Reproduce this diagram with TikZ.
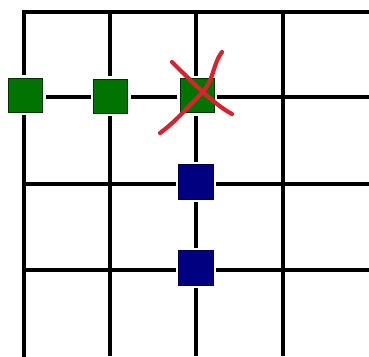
\documentclass[tikz,border=0pt]{standalone}
\begin{document}
\begin{tikzpicture}[x=1pt,y=-1pt,
  gridline/.style={line width=3.6pt,black},
  halo/.style={minimum size=40pt,inner sep=0pt,fill=white,draw=none},
  gsq/.style={minimum size=34pt,inner sep=0pt,fill=green!45!black,draw=green!20!black,line width=0.8pt},
  bsq/.style={minimum size=35pt,inner sep=0pt,fill=blue!50!black,draw=blue!30!black,line width=0.8pt},
  cross/.style={line width=4.2pt,color={rgb,255:red,215;green,35;blue,45},line cap=round}]
\useasboundingbox (0,0) rectangle (369,356);
% grid
\draw[gridline,line cap=rect] (369,12) -- (24,12) -- (24,356);
\foreach \x in {110,196,283} \draw[gridline] (\x,12) -- (\x,356);
\foreach \y in {97,184,270} \draw[gridline] (24,\y) -- (369,\y);
% squares
\foreach \p/\n in {{(25.5,95)}/h1,{(110.5,96)}/h2,{(197,95.5)}/h3,{(196,181.5)}/h4,{(196,268)}/h5}
  \node[halo] (\n) at \p {};
\node[gsq] (g1) at (25.5,95) {};
\node[gsq] (g2) at (110.5,96) {};
\node[gsq] (g3) at (197,95.5) {};
\node[bsq] (b1) at (196,181.5) {};
\node[bsq] (b2) at (196,268) {};
% red cross
\draw[cross] (172,62) .. controls (195,85) and (215,105) .. (232,114);
\draw[cross] (222,52) .. controls (212,65) and (215,80) .. (200,95) .. controls (185,110) and (175,122) .. (160,133);
\end{tikzpicture}
\end{document}
